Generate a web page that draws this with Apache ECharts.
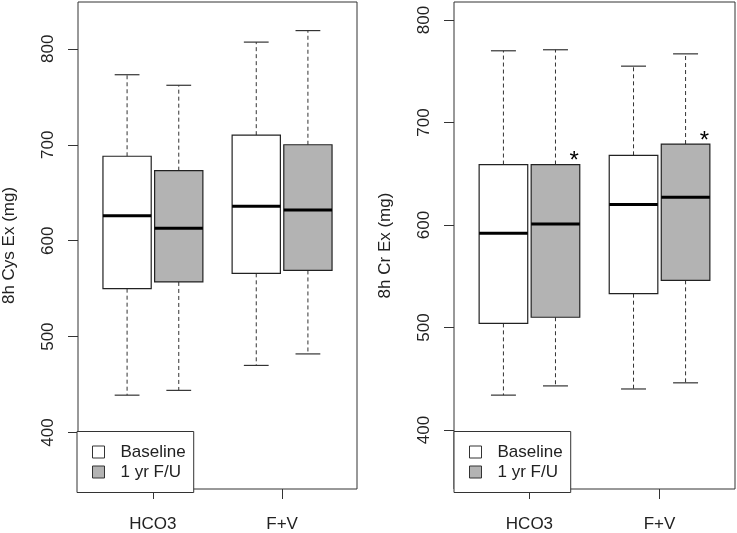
<!DOCTYPE html>
<html><head><meta charset="utf-8">
<script src="https://cdn.jsdelivr.net/npm/echarts@6/dist/echarts.min.js"></script>
<style>html,body{margin:0;padding:0;background:#fff}#c{width:737px;height:533px}</style>
</head><body><div id="c"></div>
<script>
// ---- data ----
const categories = ['HCO3', 'F+V'];
const groupNames = ['Baseline', '1 yr F/U'];
const yTicks = [400, 500, 600, 700, 800];
// [lower whisker, Q1, median, Q3, upper whisker]
const cysBaseline = [[439, 550, 626, 688, 773], [470, 566, 636, 710, 807]];
const cysFollowUp = [[444, 557, 613, 673, 762], [482, 569, 632, 700, 819]];
const crBaseline  = [[434, 504, 592, 659, 770], [440, 533, 620, 668, 755]];
const crFollowUp  = [[443, 510, 601, 659, 771], [446, 546, 627, 679, 767]];
const crFollowUpStar = [true, true];

// ---- layout ----
const groupCenters = [1.5, 4];
const offsets = [-0.5, 0.5];
const boxHalf = 0.467, capHalf = 0.24;
const FONT = 'Liberation Sans, Arial, sans-serif';
const FS = 17;
const fills = ['#ffffff', '#b3b3b3'];

function seriesData(vals, gi) {
  return vals.map((v, i) => [groupCenters[i] + offsets[gi], v[0], v[1], v[2], v[3], v[4]]);
}
function render(stars) {
  return function (params, api) {
    const x = api.value(0), lo = api.value(1), q1 = api.value(2), med = api.value(3), q3 = api.value(4), hi = api.value(5);
    const c = (a, b) => api.coord([a, b]);
    const color = api.visual('color');
    const dash = { stroke: '#333', lineWidth: 1, lineDash: [4, 3] };
    const solid = { stroke: '#333', lineWidth: 1.2 };
    const pQ3 = c(x, q3), pHi = c(x, hi), pQ1 = c(x, q1), pLo = c(x, lo);
    const bl = c(x - boxHalf, q3), br = c(x + boxHalf, q1);
    const capL = c(x - capHalf, hi), capR = c(x + capHalf, hi);
    const capL2 = c(x - capHalf, lo), capR2 = c(x + capHalf, lo);
    const mL = c(x - boxHalf, med), mR = c(x + boxHalf, med);
    const children = [
      { type: 'line', shape: { x1: pQ3[0], y1: pQ3[1], x2: pHi[0], y2: pHi[1] }, style: dash },
      { type: 'line', shape: { x1: pQ1[0], y1: pQ1[1], x2: pLo[0], y2: pLo[1] }, style: dash },
      { type: 'line', shape: { x1: capL[0], y1: capL[1], x2: capR[0], y2: capR[1] }, style: solid },
      { type: 'line', shape: { x1: capL2[0], y1: capL2[1], x2: capR2[0], y2: capR2[1] }, style: solid },
      { type: 'rect', shape: { x: bl[0], y: bl[1], width: br[0] - bl[0], height: br[1] - bl[1] }, style: { fill: color, stroke: '#222', lineWidth: 1.2 } },
      { type: 'line', shape: { x1: mL[0], y1: mL[1], x2: mR[0], y2: mR[1] }, style: { stroke: '#000', lineWidth: 3 } }
    ];
    if (stars && stars[params.dataIndex]) {
      const s = c(x + 0.36, q3);
      children.push({ type: 'text', style: { text: '*', x: s[0], y: s[1] - 3, fontSize: 24, fontFamily: FONT, fill: '#000', align: 'center', verticalAlign: 'middle' } });
    }
    return { type: 'group', children };
  };
}

function yAxis(idx, min, max, title) {
  return {
    type: 'value', gridIndex: idx, min, max,
    name: title, nameLocation: 'middle', nameGap: 60, nameRotate: 90,
    nameTextStyle: { fontFamily: FONT, fontSize: FS, color: '#222' },
    axisLine: { show: false },
    axisTick: { show: true, length: 10, inside: false, customValues: yTicks, lineStyle: { color: '#333' } },
    axisLabel: { customValues: yTicks, rotate: 90, margin: 21, fontFamily: FONT, fontSize: FS, color: '#222' },
    splitLine: { show: false }
  };
}
function xAxis(idx) {
  return {
    type: 'value', gridIndex: idx, min: 0.05, max: 5.45,
    axisLine: { show: false },
    axisTick: { show: true, length: 10, customValues: groupCenters, lineStyle: { color: '#333' } },
    axisLabel: { customValues: groupCenters, margin: 27, fontFamily: FONT, fontSize: FS, color: '#222',
      formatter: v => categories[groupCenters.indexOf(v)] },
    splitLine: { show: false }
  };
}
function legend(left) {
  return {
    data: groupNames, orient: 'vertical', left: left, top: 431.5,
    icon: 'rect', itemWidth: 12, itemHeight: 12, itemGap: 3,
    padding: [12, 8, 12, 15],
    borderColor: '#333', borderWidth: 1, backgroundColor: '#fff', borderRadius: 0,
    itemStyle: { borderColor: '#333', borderWidth: 1 },
    textStyle: { fontFamily: FONT, fontSize: FS, color: '#222', lineHeight: 17, padding: [0, 0, 0, 11] },
    selectedMode: false
  };
}

const chart = echarts.init(document.getElementById('c'), null, { renderer: 'canvas' });
const panels = [
  { b: cysBaseline, f: cysFollowUp, stars: null },
  { b: crBaseline, f: crFollowUp, stars: crFollowUpStar }
];
const series = [];
panels.forEach((p, i) => {
  series.push({ type: 'custom', name: groupNames[0], xAxisIndex: i, yAxisIndex: i, data: seriesData(p.b, 0),
    itemStyle: { color: fills[0] }, renderItem: render(null), encode: { x: 0, y: [1, 2, 3, 4, 5] }, silent: true });
  series.push({ type: 'custom', name: groupNames[1], xAxisIndex: i, yAxisIndex: i, data: seriesData(p.f, 1),
    itemStyle: { color: fills[1] }, renderItem: render(p.stars), encode: { x: 0, y: [1, 2, 3, 4, 5] }, silent: true });
});

chart.setOption({
  animation: false,
  backgroundColor: '#fff',
  grid: [
    { left: 77, top: 2, width: 280, height: 490, show: true, borderColor: '#333', borderWidth: 1, backgroundColor: 'transparent' },
    { left: 454, top: 2, width: 281, height: 490, show: true, borderColor: '#333', borderWidth: 1, backgroundColor: 'transparent' }
  ],
  xAxis: [xAxis(0), xAxis(1)],
  yAxis: [yAxis(0, 341.2, 848.8, '8h Cys Ex (mg)'), yAxis(1, 342.4, 817.6, '8h Cr Ex (mg)')],
  legend: [legend(77), legend(454)],
  series
});
</script></body></html>
